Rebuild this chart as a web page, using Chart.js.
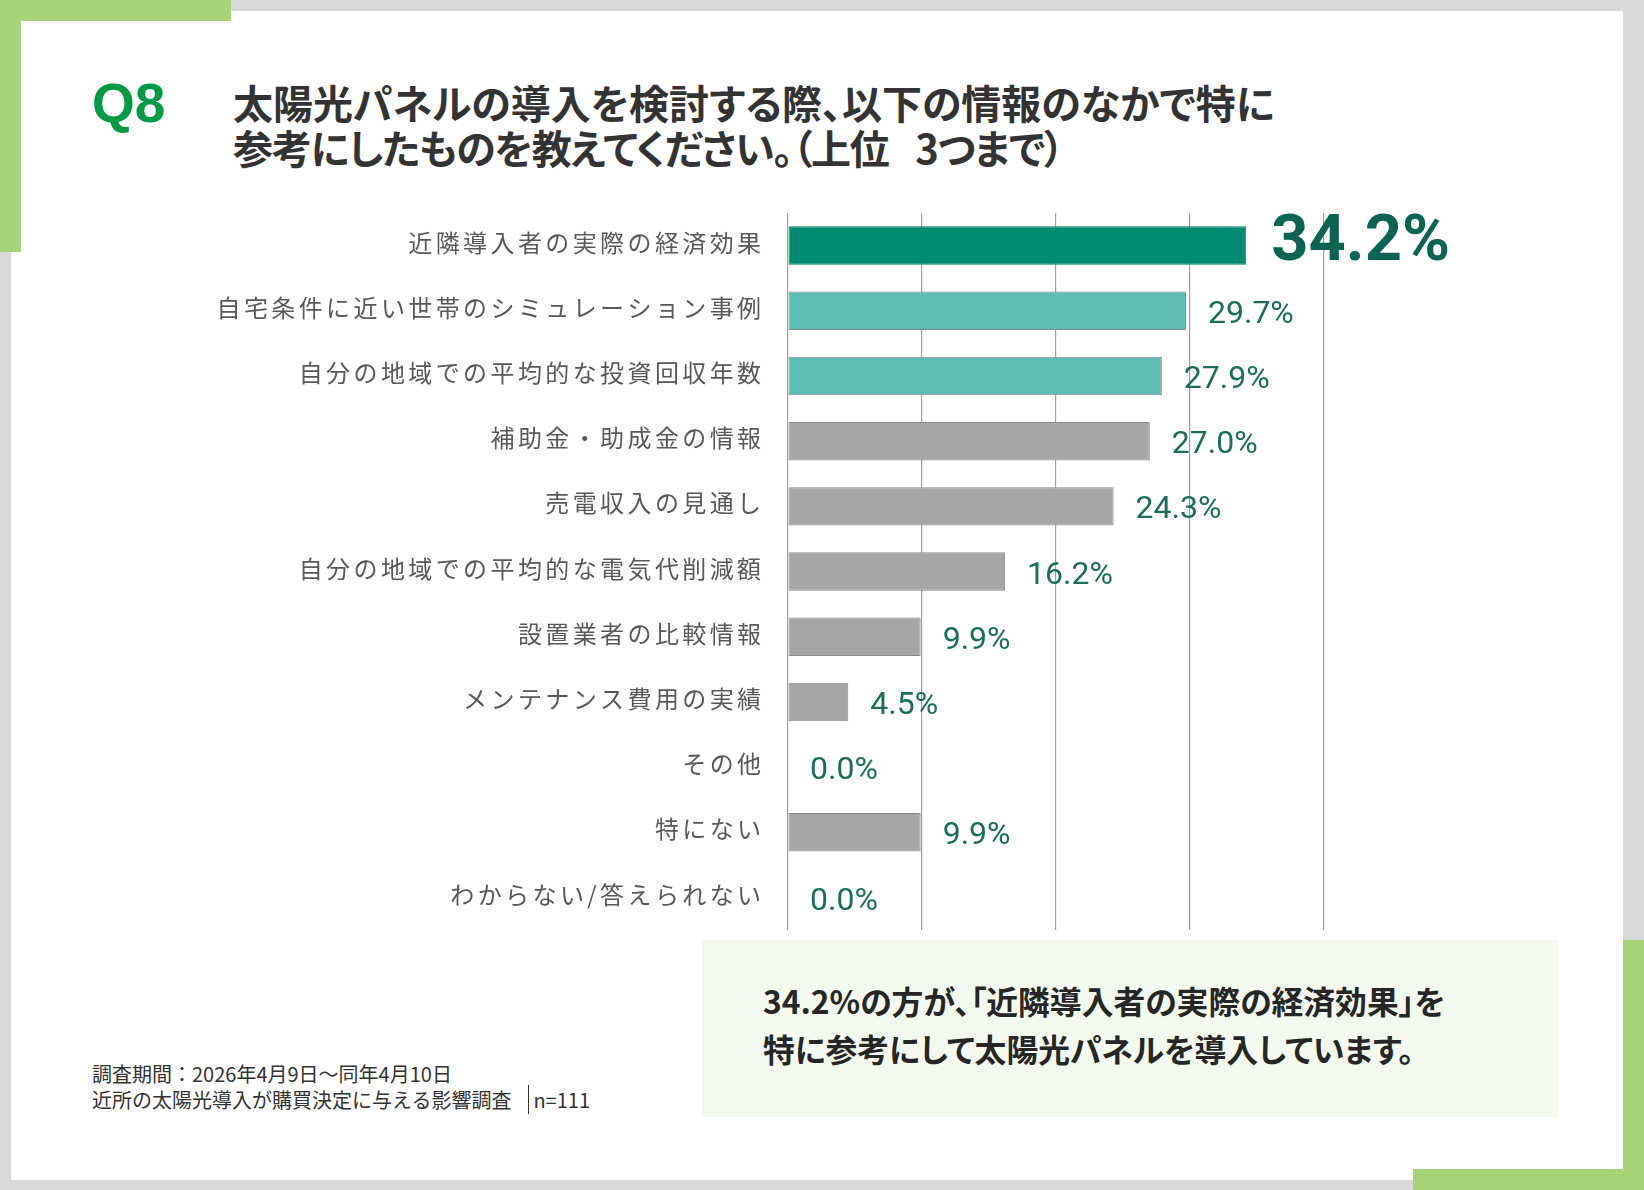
<!DOCTYPE html>
<html lang="ja">
<head>
<meta charset="utf-8">
<script src="https://cdn.jsdelivr.net/npm/chart.js@4.4.1/dist/chart.umd.min.js"></script>
<style>
  html, body {
    margin: 0;
    padding: 0;
  }
  body {
    width: 1644px;
    height: 1190px;
    position: relative;
    overflow: hidden;
    background: #d9d9d9;
    font-family: "Noto Sans CJK JP", "Noto Sans", sans-serif;
    color: #333;
  }
  .card {
    position: absolute;
    left: 11px;
    top: 11px;
    width: 1612px;
    height: 1169px;
    background: #fff;
  }
  .accent {
    position: absolute;
    background: #a8d478;
  }
  .q {
    position: absolute;
    left: 92px;
    top: 71px;
    font-family: "Liberation Sans", Arial, sans-serif;
    font-weight: 700;
    font-size: 55px;
    color: #009a44;
  }
  .title {
    position: absolute;
    left: 233px;
    top: 80px;
    font-weight: 700;
    font-size: 40px;
    line-height: 45px;
    color: #333;
    white-space: nowrap;
    font-feature-settings: "palt";
  }
  .title .l2 {
    letter-spacing: -1.2px;
  }
  #wrap {
    position: absolute;
    left: 0;
    top: 180px;
    width: 1450px;
    height: 780px;
  }
  .note {
    position: absolute;
    left: 702px;
    top: 940px;
    width: 857px;
    height: 177px;
    background: #f3f9ee;
  }
  .note p {
    position: absolute;
    left: 61px;
    top: 36px;
    margin: 0;
    font-weight: 700;
    font-size: 31.8px;
    line-height: 48px;
    color: #262626;
    white-space: nowrap;
    font-feature-settings: "palt";
  }
  .foot {
    position: absolute;
    left: 92px;
    top: 1061px;
    font-size: 20px;
    line-height: 26px;
    color: #333;
    white-space: nowrap;
  }
  .foot .bar {
    border-left: 1.5px solid #333;
    padding-left: 4px;
    margin-left: 17px;
  }
</style>
</head>
<body>
<div class="card"></div>
<div class="accent" style="left:0;top:0;width:231px;height:21px"></div>
<div class="accent" style="left:0;top:0;width:21px;height:252px"></div>
<div class="accent" style="left:1623px;top:940px;width:21px;height:250px"></div>
<div class="accent" style="left:1413px;top:1169px;width:231px;height:21px"></div>

<div class="q">Q8</div>
<div class="title">太陽光パネルの導入を検討する際、以下の情報のなかで特に<br><span class="l2">参考にしたものを教えてください。（上位&ensp;&nbsp;3つまで）</span></div>

<div id="wrap"><canvas id="chart"></canvas></div>

<div class="note"><p>34.2%の方が、「近隣導入者の実際の経済効果」を<br>特に参考にして太陽光パネルを導入しています。</p></div>

<div class="foot">調査期間：2026年4月9日～同年4月10日<br>近所の太陽光導入が購買決定に与える影響調査<span class="bar">n=111</span></div>

<script>
  const categories = [
    '近隣導入者の実際の経済効果',
    '自宅条件に近い世帯のシミュレーション事例',
    '自分の地域での平均的な投資回収年数',
    '補助金・助成金の情報',
    '売電収入の見通し',
    '自分の地域での平均的な電気代削減額',
    '設置業者の比較情報',
    'メンテナンス費用の実績',
    'その他',
    '特にない',
    'わからない/答えられない'
  ]
  const values = [34.2, 29.7, 27.9, 27.0, 24.3, 16.2, 9.9, 4.5, 0.0, 9.9, 0.0]
  const axisTicks = [0, 10, 20, 30, 40]

  function barColor(i) {
    if (i === 0) return '#008b73'
    if (i < 3) return '#5dbdb2'
    return '#a6a6a6'
  }
  function barBorder(i) {
    if (i === 0) return '#007a65'
    return '#8a8a8a'
  }

  // spacing for the category names (canvas letterSpacing)
  const labelSpacing = {
    id: 'labelSpacing',
    beforeDraw(chart) { chart.ctx.letterSpacing = '3.4px' },
    afterDraw(chart) { chart.ctx.letterSpacing = '0px' }
  }

  // value labels at the end of each bar
  const valueLabels = {
    id: 'valueLabels',
    afterDatasetsDraw(chart) {
      const ctx = chart.ctx
      const meta = chart.getDatasetMeta(0)
      ctx.save()
      ctx.letterSpacing = '0px'
      ctx.textAlign = 'left'
      ctx.textBaseline = 'middle'
      meta.data.forEach((bar, i) => {
        const text = values[i].toFixed(1) + '%'
        if (i === 0) {
          ctx.font = '700 65px Roboto, "Noto Sans", sans-serif'
          ctx.fillStyle = '#0b6451'
          ctx.fillText(text, bar.x + 25, bar.y - 2)
        } else {
          ctx.font = '400 32px Roboto, "Noto Sans", sans-serif'
          ctx.fillStyle = '#1b6e5c'
          ctx.fillText(text, bar.x + 22, bar.y + 4)
        }
      })
      ctx.restore()
    }
  }

  new Chart(document.getElementById('chart'), {
    type: 'bar',
    data: {
      labels: categories,
      datasets: [{
        data: values,
        backgroundColor: ctx => barColor(ctx.dataIndex),
        borderColor: ctx => barBorder(ctx.dataIndex),
        borderWidth: 1,
        borderSkipped: false,
        categoryPercentage: 1,
        barPercentage: 0.59
      }]
    },
    options: {
      indexAxis: 'y',
      responsive: true,
      maintainAspectRatio: false,
      animation: false,
      events: [],
      layout: {
        padding: { top: 33, bottom: 27, left: 0, right: 126 }
      },
      plugins: {
        legend: { display: false },
        tooltip: { enabled: false },
        title: { display: false }
      },
      scales: {
        x: {
          min: axisTicks[0],
          max: axisTicks[axisTicks.length - 1],
          afterBuildTicks: scale => {
            scale.ticks = axisTicks.map(v => ({ value: v }))
          },
          ticks: { display: false },
          grid: { color: '#a0a0a0', lineWidth: 1.2, drawTicks: false },
          border: { display: false },
          afterFit: scale => { scale.height = 0 }
        },
        y: {
          grid: { display: false },
          border: { display: false },
          ticks: {
            autoSkip: false,
            padding: 15.5,
            labelOffset: -3,
            color: '#595959',
            font: { family: '"Noto Sans CJK JP", sans-serif', size: 24, weight: 400 }
          },
          afterFit: scale => { scale.width = 788 }
        }
      }
    },
    plugins: [labelSpacing, valueLabels]
  })
</script>
</body>
</html>
